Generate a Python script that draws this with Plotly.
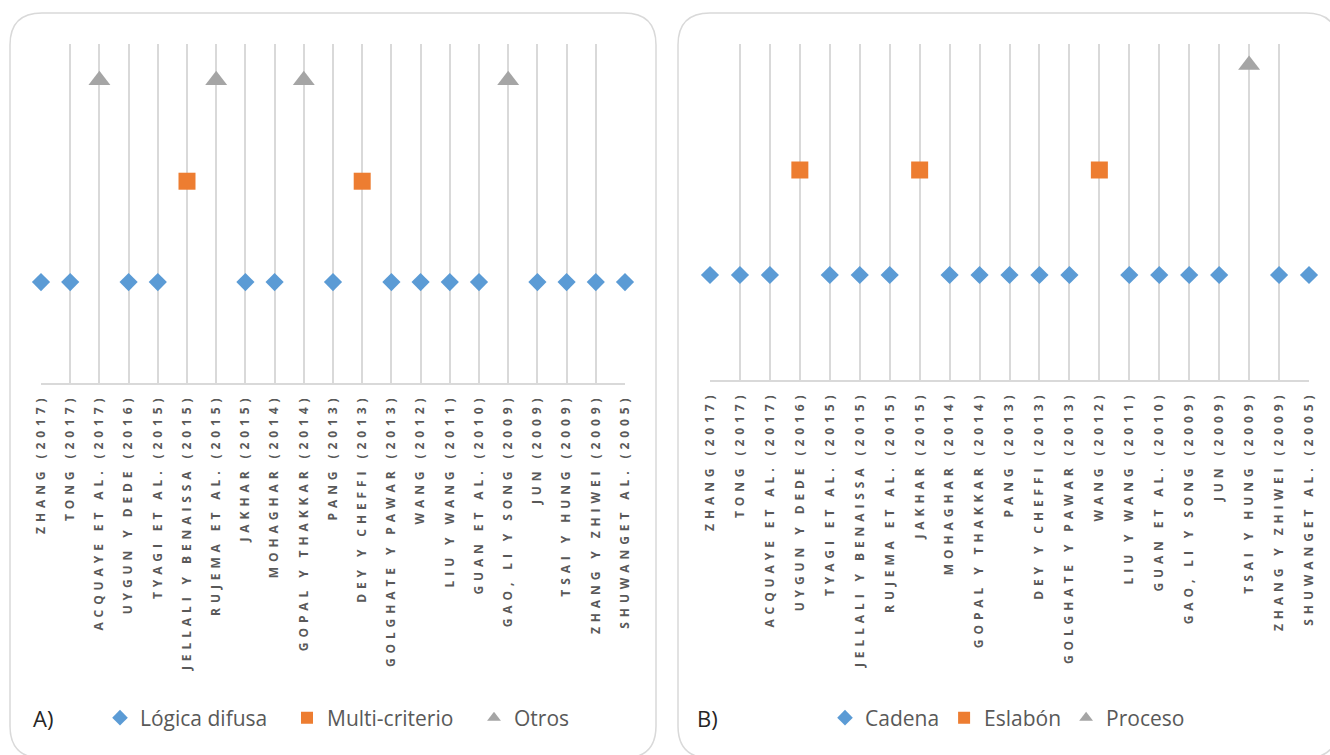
import plotly.graph_objects as go

W, H = 1330, 755

# Studies, in the order they appear along both axes
autores = [
    "ZHANG (2017)", "TONG (2017)", "ACQUAYE ET AL. (2017)", "UYGUN Y DEDE (2016)",
    "TYAGI ET AL. (2015)", "JELLALI Y BENAISSA (2015)", "RUJEMA ET AL. (2015)",
    "JAKHAR (2015)", "MOHAGHAR (2014)", "GOPAL Y THAKKAR (2014)", "PANG (2013)",
    "DEY Y CHEFFI (2013)", "GOLGHATE Y PAWAR (2013)", "WANG (2012)", "LIU Y WANG (2011)",
    "GUAN ET AL. (2010)", "GAO, LI Y SONG (2009)", "JUN (2009)", "TSAI Y HUNG (2009)",
    "ZHANG Y ZHIWEI (2009)", "SHUWANGET AL. (2005)",
]

# Panel A: method used (1 = Lógica difusa, 2 = Multi-criterio, 3 = Otros)
logica_difusa = [1, 1, None, 1, 1, None, None, 1, 1, None, 1, None, 1, 1, 1, 1, None, 1, 1, 1, 1]
multi_criterio = [None, None, None, None, None, 2, None, None, None, None, None, 2,
                  None, None, None, None, None, None, None, None, None]
otros = [None, None, 3, None, None, None, 3, None, None, 3, None, None,
         None, None, None, None, 3, None, None, None, None]

# Panel B: scope (1 = Cadena, 2 = Eslabón, 3 = Proceso)
cadena = [1, 1, 1, None, 1, 1, 1, None, 1, 1, 1, 1, 1, None, 1, 1, 1, 1, None, 1, 1]
eslabon = [None, None, None, 2, None, None, None, 2, None, None, None, None,
           None, 2, None, None, None, None, None, None, None]
proceso = [None, None, None, None, None, None, None, None, None, None, None, None,
           None, None, None, None, None, None, 3, None, None]

AZUL, NARANJA, GRIS = "#5B9BD5", "#ED7D31", "#A5A5A5"
LINEA = "#D9D9D9"
TEXTO = "#595959"


def px_x(x):
    return x / W


def px_y(y):
    return 1 - y / H


def rounded_rect(x0, y0, x1, y1, r):
    pts = [
        ("M", [(x0 + r, y0)]), ("L", [(x1 - r, y0)]), ("Q", [(x1, y0), (x1, y0 + r)]),
        ("L", [(x1, y1 - r)]), ("Q", [(x1, y1), (x1 - r, y1)]),
        ("L", [(x0 + r, y1)]), ("Q", [(x0, y1), (x0, y1 - r)]),
        ("L", [(x0, y0 + r)]), ("Q", [(x0, y0), (x0 + r, y0)]),
    ]
    path = ""
    for cmd, coords in pts:
        path += cmd + " " + " ".join(f"{px_x(a):.5f},{px_y(b):.5f}" for a, b in coords) + " "
    return path + "Z"


etiquetas = [f'<span style="letter-spacing:4.9px;font-weight:bold">{a}</span>' for a in autores]

fig = go.Figure()

series_a = [
    ("Lógica difusa", logica_difusa, "diamond", AZUL, 14),
    ("Multi-criterio", multi_criterio, "square", NARANJA, 17),
    ("Otros", otros, "triangle-up", GRIS, 19),
]
series_b = [
    ("Cadena", cadena, "diamond", AZUL, 14),
    ("Eslabón", eslabon, "square", NARANJA, 17),
    ("Proceso", proceso, "triangle-up", GRIS, 19),
]

for nombre, valores, simbolo, color, tam in series_a:
    fig.add_trace(go.Scatter(
        x=autores, y=valores, name=nombre, mode="markers",
        marker=dict(symbol=simbolo, color=color, size=tam, line=dict(width=0)),
        xaxis="x", yaxis="y", legend="legend", cliponaxis=False,
    ))

for nombre, valores, simbolo, color, tam in series_b:
    fig.add_trace(go.Scatter(
        x=autores, y=valores, name=nombre, mode="markers",
        marker=dict(symbol=simbolo, color=color, size=tam, line=dict(width=0)),
        xaxis="x2", yaxis="y2", legend="legend2", cliponaxis=False,
    ))

eje_x = dict(
    type="category", categoryorder="array", categoryarray=autores,
    range=[0, len(autores) - 1], showgrid=True, gridcolor=LINEA, gridwidth=1.5,
    showline=True, linecolor=LINEA, linewidth=1.5, zeroline=False, ticks="",
    tickmode="array", tickvals=autores, ticktext=etiquetas, tickangle=-90,
    tickfont=dict(family="Open Sans", size=12, color=TEXTO, weight="bold"),
    ticklabelstandoff=4, automargin=False, fixedrange=True,
)
eje_y = dict(visible=False, showgrid=False, zeroline=False, automargin=False, fixedrange=True)

fuente_leyenda = dict(family="Open Sans", size=21, color=TEXTO)

fig.update_layout(
    width=W, height=H, autosize=False,
    margin=dict(l=0, r=0, t=0, b=0),
    paper_bgcolor="white", plot_bgcolor="white",
    xaxis=dict(eje_x, domain=[px_x(41), px_x(625)], anchor="y"),
    yaxis=dict(eje_y, domain=[px_y(383), px_y(44)], range=[0, 3.36], anchor="x"),
    xaxis2=dict(eje_x, domain=[px_x(710), px_x(1309)], anchor="y2"),
    yaxis2=dict(eje_y, domain=[px_y(380), px_y(44)], range=[0, 3.2], anchor="x2"),
    legend=dict(
        orientation="h", x=px_x(100), y=px_y(718), xanchor="left", yanchor="middle",
        font=fuente_leyenda, bgcolor="rgba(0,0,0,0)", itemsizing="constant",
        entrywidth=142, entrywidthmode="pixels",
    ),
    legend2=dict(
        orientation="h", x=px_x(825), y=px_y(718), xanchor="left", yanchor="middle",
        font=fuente_leyenda, bgcolor="rgba(0,0,0,0)", itemsizing="constant",
    ),
    shapes=[
        dict(type="path", xref="paper", yref="paper", path=rounded_rect(10, 13, 656, 758, 32),
             line=dict(color=LINEA, width=1.5), layer="below"),
        dict(type="path", xref="paper", yref="paper", path=rounded_rect(678, 13, 1338, 758, 32),
             line=dict(color=LINEA, width=1.5), layer="below"),
    ],
    annotations=[
        dict(text="A)", x=px_x(31), y=px_y(718), xref="paper", yref="paper",
             xanchor="left", yanchor="middle", showarrow=False,
             font=dict(family="Open Sans", size=22, color="#262626")),
        dict(text="B)", x=px_x(695), y=px_y(718), xref="paper", yref="paper",
             xanchor="left", yanchor="middle", showarrow=False,
             font=dict(family="Open Sans", size=22, color="#262626")),
    ],
    hovermode=False,
)

fig.write_html("out.html", config={"displayModeBar": False})
